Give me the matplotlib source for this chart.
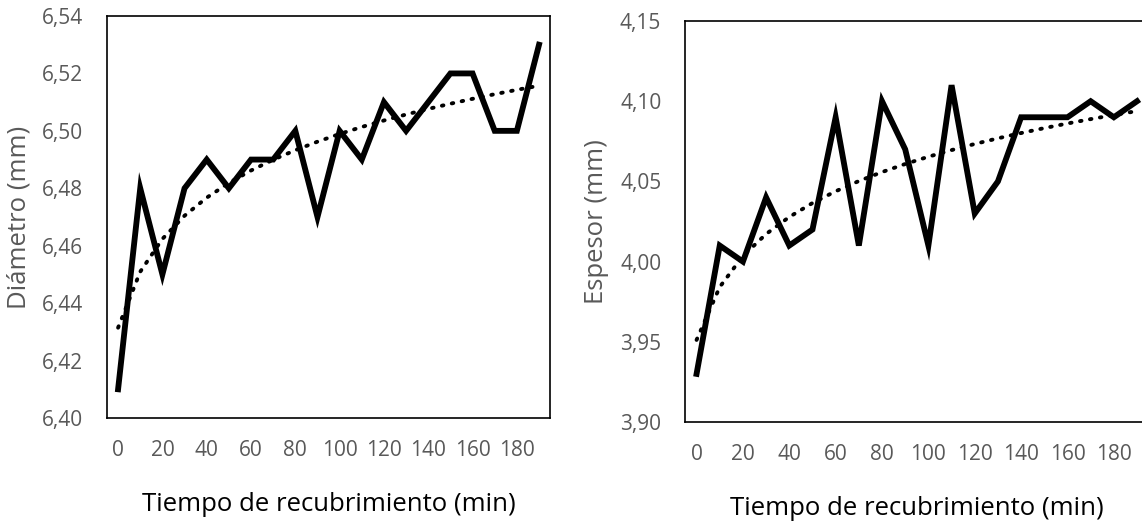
import numpy as np
import matplotlib.pyplot as plt

# tiempo de recubrimiento (min) y mediciones
tiempo = [0, 10, 20, 30, 40, 50, 60, 70, 80, 90,
          100, 110, 120, 130, 140, 150, 160, 170, 180, 190]
diametro = [6.41, 6.48, 6.45, 6.48, 6.49, 6.48, 6.49, 6.49, 6.50, 6.47,
            6.50, 6.49, 6.51, 6.50, 6.51, 6.52, 6.52, 6.50, 6.50, 6.53]
espesor = [3.93, 4.01, 4.00, 4.04, 4.01, 4.02, 4.09, 4.01, 4.10, 4.07,
           4.01, 4.11, 4.03, 4.05, 4.09, 4.09, 4.09, 4.10, 4.09, 4.10]

diam_ticks = [6.40, 6.42, 6.44, 6.46, 6.48, 6.50, 6.52, 6.54]
esp_ticks = [3.90, 3.95, 4.00, 4.05, 4.10, 4.15]

plt.rcParams['font.family'] = ['Open Sans', 'DejaVu Sans']
gris = '#595959'

fig = plt.figure(figsize=(11.42, 5.23), dpi=100)
ax1 = fig.add_axes([0.0937, 0.2008, 0.388, 0.7686])
ax2 = fig.add_axes([0.5998, 0.1931, 0.406, 0.7667])


def dibujar(ax, y, yticks, ylabel):
    x = np.arange(len(tiempo))
    ax.plot(x, y, color='black', lw=4.2, solid_joinstyle='miter', zorder=3)
    # linea de tendencia logaritmica (como en Excel, sobre el indice 1..n)
    a, b = np.polyfit(np.log(x + 1), y, 1)
    ax.plot(x, a * np.log(x + 1) + b, color='black', lw=2.8,
            linestyle=(0, (0.4, 2.2)), dash_capstyle='round', zorder=2)
    ax.set_xlim(-0.5, len(tiempo) - 0.5)
    ax.set_ylim(yticks[0], yticks[-1])
    ax.set_yticks(yticks)
    ax.set_yticklabels([f'{t:.2f}'.replace('.', ',') for t in yticks])
    ax.set_xticks(x[::2])
    ax.set_xticklabels([str(t) for t in tiempo[::2]])
    ax.tick_params(length=0, labelsize=15, colors=gris)
    ax.tick_params(axis='x', pad=16)
    ax.tick_params(axis='y', pad=17)
    for s in ax.spines.values():
        s.set_linewidth(1.2)
        s.set_color('black')
    ax.set_ylabel(ylabel, fontsize=18.5, color=gris, labelpad=8)
    ax.set_xlabel('Tiempo de recubrimiento (min)', fontsize=18.5,
                  color='black', labelpad=22)


dibujar(ax1, diametro, diam_ticks, 'Diámetro (mm)')
dibujar(ax2, espesor, esp_ticks, 'Espesor (mm)')

fig.savefig('out.png', dpi=100)
